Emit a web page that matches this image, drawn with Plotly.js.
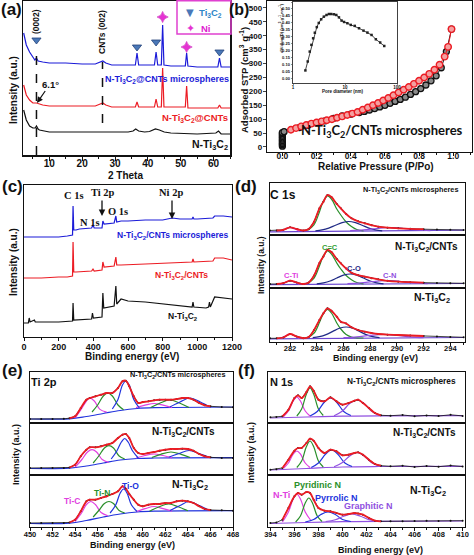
<!DOCTYPE html>
<html><head><meta charset="utf-8">
<script src="https://cdn.plot.ly/plotly-3.0.1.min.js"></script>
<style>html,body{margin:0;padding:0;background:#fff}#g{width:474px;height:555px}</style>
</head><body><div id="g"></div>
<script>
// ---------- (a) XRD ----------
const xrdBlue2theta = [2.2,3,4,5,5.6,6.1,6.6,8,10,15,20,24,25.5,26.3,27.2,29,33,36.2,36.7,37.2,40,42,42.5,43,44.1,44.5,44.9,47,51.4,51.8,52.2,55,60,61.3,61.8,62.3,65];
const xrdBlueI     = [122,110,103,98,95,97,94,93,92,92,91,91,93,94,92,90,90,90,102,90,90,90,103,90,90,130,90,89,89,102,89,88,88,88,97,88,88];
const xrdRed2theta = [2.2,3,4,5,6.1,8,10,15,20,24,25.5,26.3,27.2,29,33,36.2,36.7,37.2,40,42,42.5,43,44.1,44.5,44.9,47,51.4,51.8,52.2,55,60,61.3,61.8,62.3,65];
const xrdRedI      = [70,60,55,52,52,50,49,49,49,49,51,52,50,48,48,48,53,48,48,48,56,48,48,87,48,48,48,69,47,47,47,47,50,47,47];
const xrdBlack2theta = [2.2,3,4,5,5.7,6.1,6.6,7,10,20,30,34,35.5,36.3,37.2,39,40.5,42.3,43.5,45,47,55,60.7,61.5,62.3,65];
const xrdBlackI      = [45,35,29,27,27,29,26,25,23,23,23,23,24,26,24,23,23.5,26,25,23,22,21,22,24,21,21];
const ti3c2Peaks2theta = [6.1,36.7,42.5,61.8];
const ti3c2MarkLevel   = [115,108,113,103];
const niPeaks2theta = [44.5,51.8];
const niMarkLevel   = [138,108];
const refLines2theta = [6.1,26.2];

// ---------- (b) BET ----------
const betAdsP = [0,0,0,0,0,0,0,0,0,0,0,0.01,0.1,0.15,0.2,0.25,0.3,0.35,0.4,0.45,0.48,0.51,0.54,0.57,0.6,0.63,0.66,0.69,0.72,0.75,0.78,0.81,0.84,0.87,0.9,0.93,0.96,0.99];
const betAdsV = [3,8,13,18,23,28,33,38,43,48,52,55,70,78,86,94,103,112,118,124,128,133,138,144,150,157,164,171,179,189,199,210,223,238,256,285,343,424];
const betDesP = [0.05,0.08,0.11,0.14,0.17,0.2,0.23,0.26,0.29,0.32,0.35,0.38,0.41,0.44,0.47,0.5,0.53,0.56,0.59,0.62,0.65,0.68,0.71,0.74,0.77,0.8,0.83,0.86,0.89,0.92,0.95,0.97,0.99];
const betDesV = [62,68,74,79,84,88,92,96,100,105,110,115,120,126,134,142,150,158,167,176,186,196,206,216,227,238,250,263,278,296,325,360,424];
const poreD  = [1.73,1.92,2.1,2.26,2.44,2.63,2.87,3.13,3.48,3.92,4.41,4.9,5.43,6.12,6.8,7.65,8.6,9.6,11.1,12.9,15.4,18.6,22.7,27,32.4,39.2,47.5,56.9];
const poreDV = [0.06,0.124,0.195,0.243,0.29,0.33,0.37,0.4,0.426,0.445,0.457,0.464,0.464,0.462,0.457,0.44,0.417,0.407,0.398,0.386,0.379,0.362,0.345,0.331,0.314,0.283,0.26,0.235];

// ---------- (c) XPS survey ----------
const surveyBlueBE = [0,100,200,250,280,283,287,300,320,390,398,405,450,455,462,520,530,535,560,600,700,800,855,900,970,975,980,1000,1090,1100,1150,1200];
const surveyBlueI  = [100,100,100,101,102,131,107,107,108,109,112,109,109,116,113,114,121,115,116,116,117,117,119,118,118,120,118,118,119,121,121,120];
const surveyRedBE  = [0,100,200,250,280,283,287,300,390,398,405,450,455,462,520,530,535,560,700,850,900,970,975,980,1090,1100,1150,1200];
const surveyRedI   = [59,59,60,60,61,95,65,65,66,68,66,67,75,70,71,80,72,72,73,74,74,75,78,75,76,79,79,77];
const surveyBlackBE = [0,25,30,35,60,65,70,200,280,283,287,390,395,400,450,455,460,520,530,535,560,600,700,800,900,950,970,975,980,1050,1065,1070,1075,1100,1150,1200];
const surveyBlackI  = [14,14,19,15,17,15,15,15,16,34,17,18,24,19,20,44,29,31,51,33,38,36,35,33,31,30,30,35,30,29,30,35,30,40,39,38];

// ---------- (d) C 1s ----------
const c1sBE    = [280.5,281,281.5,282,282.5,283,283.4,283.8,284.2,284.5,284.8,285.1,285.5,285.8,286.2,286.6,287.1,287.6,288.1,288.6,289.3,290.1,291,292,293,294,295];
const c1sMicro = [4.5,4.5,5.2,7.7,6,4.5,6,13.3,26.7,33.3,40,38,31,26.7,21,16.7,13.7,11.7,9.8,8.3,7.3,6.7,6.2,5.8,5.5,5.2,5];
const c1sCNTs  = [4,4,4.8,7.3,5.5,4,5.5,12.5,25,31.5,38,36,29,24.7,19.5,15.3,12.8,11.3,9.8,8.7,7.2,6.3,5.8,5.3,5,4.8,4.7];
const c1sPure  = [3.7,3.7,4.5,8,5.5,3.8,5,12,22,28.7,33.7,31.3,25.3,20.3,18.5,14.7,12,10.3,9,8,7.3,7,6.5,6,5.5,5,4.7];
const cBaseBE = [280.5,295];
const dM_base = [3.2,4.8], dC_base = [3.3,4.5], dP_base = [3.2,4.5];
const cTiBE = [281.3,281.65,282,282.35,282.7];
const dM_CTi = [3.9,6,7.7,6,3.9], dC_CTi = [3.8,5.7,7.3,5.7,3.8], dP_CTi = [3.8,6,8,6,3.8];
const ccBE = [283.3,283.8,284.2,284.5,284.8,285.1,285.5,285.8,286.2,286.6,287,287.5];
const dM_CC = [4.4,10.3,23,34,39,36,26,20,13,8.5,5.5,4.2];
const dC_CC = [4.3,9.9,22,32.3,37,34,25,19,12.5,8.3,5.5,4.2];
const dP_CC = [4,8.8,19.4,28.4,32.5,29,19,13,7.5,5,4.2,4];
const dM_CO_BE = [283.9,284.4,284.9,285.4,285.9,286.4,286.9,287.4,287.9,288.4,288.9];
const dM_CO    = [4.2,5.1,6.9,9.7,12.3,13.5,12.3,9.7,6.9,5.1,4.2];
const dC_CO_BE = [284,284.5,285,285.5,286,286.5,287,287.5,288,288.5,289];
const dC_CO    = [4.2,5.2,7,10,12.8,14,12.8,10,7,5.2,4.2];
const dP_CO_BE = [283.7,284.2,284.7,285.2,285.7,286.2,286.7,287.2,287.7,288.2,288.7];
const dP_CO    = [4.3,5.3,7.4,10.6,13.7,15,13.7,10.6,7.4,5.3,4.3];
const dM_CN_BE = [286.5,287.5,288.5,289.5,290.5,291.5,292.5];
const dM_CN    = [4.4,5.1,6.5,7.5,6.5,5.1,4.4];
const dC_CN_BE = [286.3,287.3,288.3,289.3,290.3,291.3,292.3];
const dC_CN    = [4.3,5.1,6.5,7.5,6.5,5.1,4.4];
const dP_CN_BE = [286,287,288,289,290,291,292];
const dP_CN    = [4.3,5.2,6.6,7.5,6.6,5.2,4.3];

// ---------- (e) Ti 2p ----------
const ti2pBE   = [450,451,452,453,453.5,454,454.5,455,455.3,455.8,456.3,456.8,457.3,457.8,458.2,458.5,458.8,459.2,459.6,460,460.5,461,461.5,462,462.5,463,463.5,464,464.5,465,465.5,466,467,468];
const ti2pMicro = [4,4,4,4.2,4.8,6.7,15,23.3,25,26.7,28.3,30,30,35,41.7,42.3,36.7,26.7,20,21,21.7,22.7,23.3,23.3,23.3,24,25,25,23.3,20,17.7,16.7,16,15.7];
const ti2pCNTs  = [7,7,7,7,7.5,10.3,18.7,25.3,27.7,27.7,28.7,30.3,32,37,40.3,41,37,27,22,21,22,23,24.3,25.3,26,26,26.3,26,24.3,21,18.7,17.7,17,17];
const ti2pPure  = [4,4,4,4,4.5,7.3,15.7,25.7,27.3,27.3,29,30.7,33,35.7,40.7,38.3,33,27.3,22.3,20.7,22.3,23,23,24,24,25.7,26.3,25.7,24,20.7,18,17,16.7,16.3];
const tiBaseBE = [450,453.5,455,456.5,458,459.5,461,468];
const eM_base = [4,4.2,6.5,9.5,12.5,14.5,15.3,16];
const eC_base = [6.5,6.8,9,12,15,16.5,17,17.3];
const eP_base = [3.5,3.8,6.5,10,13,15,15.8,16.3];
const eM_TiCa_BE = [454,454.5,455,455.3,455.7,456.2,456.8], eM_TiCa = [5,13,22,25,22,13.6,10.9];
const eM_TiCb_BE = [459.4,460.2,461,461.8,462.6],           eM_TiCb = [15.4,17.8,19.5,17.8,15.4];
const eM_TiNa_BE = [455.5,456,456.5,456.9,457.3,457.8,458.3], eM_TiNa = [11,18,27,30,27,18,13.2];
const eM_TiNb_BE = [460.7,461.5,462.4,463.3,464.1],         eM_TiNb = [15.5,19.7,23,19.7,15.5];
const eM_TiOa_BE = [457.3,457.8,458.2,458.5,458.8,459.2,459.7], eM_TiOa = [14,23.5,38,42,38,23.5,15];
const eM_TiOb_BE = [462.4,463.3,464.2,465.1,466],           eM_TiOb = [16,21,25,21,16];
const eC_TiCa_BE = [454,454.6,455.1,455.5,455.9,456.4,457], eC_TiCa = [8,15.5,23,25.3,23,15.5,12.5];
const eC_TiCb_BE = [459.4,460.2,461,461.8,462.6],           eC_TiCb = [17,19.5,21,19.5,17.2];
const eC_TiNa_BE = [455.6,456.1,456.6,457,457.4,457.9,458.4], eC_TiNa = [12,19,27,29.3,27,19,16];
const eC_TiNb_BE = [460.8,461.6,462.5,463.4,464.2],         eC_TiNb = [17.5,20.7,23,20.7,17.5];
const eC_TiOa_BE = [457.2,457.7,458.1,458.4,458.7,459.1,459.6], eC_TiOa = [16,24,33,36.5,33,24,17];
const eC_TiOb_BE = [462.3,463.2,464.1,465,465.9],           eC_TiOb = [17.7,21.5,24.5,21.5,17.7];
const eP_TiCa_BE = [454,454.6,455,455.4,455.8,456.3,456.9], eP_TiCa = [5.5,14.5,22.5,25.5,22.5,14.5,11.3];
const eP_TiCb_BE = [459.4,460.2,461,461.8,462.6],           eP_TiCb = [15.3,18.3,20.5,18.3,15.8];
const eP_TiNa_BE = [455.6,456.1,456.6,457,457.4,457.9,458.4], eP_TiNa = [10,16.5,23.5,25.5,23.5,16.5,14];
const eP_TiNb_BE = [460.6,461.4,462.3,463.2,464],           eP_TiNb = [15.8,20,23,20,16.2];
const eP_TiOa_BE = [457.1,457.6,458,458.3,458.6,459,459.5], eP_TiOa = [14,22,34,38,34,22,15.5];
const eP_TiOb_BE = [462.4,463.3,464.1,465,465.9],           eP_TiOb = [16.5,21.5,25.5,21.5,16.7];

// ---------- (f) N 1s ----------
const n1sBE    = [394,394.5,395,395.5,396,396.3,396.6,397,397.3,397.6,398,398.5,399,399.5,400,400.5,401,401.3,401.7,402.2,402.7,403.2,404,405,406,407,408,409,410];
const n1sMicro = [5.7,6,6.7,13.3,25,27.7,25,31,36.7,32.3,23.3,21.7,25.7,21.7,18.3,20,22.3,23.3,20,15,10,7.7,7.3,8,6.8,7.6,7,8.2,7.1];
const n1sCNTs  = [5.3,5.8,7,15.3,24.3,27,27,32,36.3,34.3,27,22,25.3,23.7,19.7,20.3,22,22.7,20.3,15.3,11,9.3,8.7,9.3,8,9,8.3,9.5,8.5];
const n1sPure  = [4,4.5,7.3,19,30.7,34,32.3,35,34,27.3,19,16.3,15.7,14,12.3,13,14,13.5,12.3,9,6.3,5.7,5.7,5.7,6,6.3,6,6.3,6.3];
const nBaseBE = [394,397,400,403,410];
const fM_base = [5,6,6.8,7.2,7.3], fC_base = [5,6.5,8,8.5,8.7], fP_base = [3.5,4.5,5.3,5.7,6];
const fM_NTi_BE = [395.1,395.5,395.9,396.2,396.5,396.9,397.3], fM_NTi = [6.5,12,22,26,22,12,7];
const fM_Pyd_BE = [396.2,396.6,397,397.3,397.6,398,398.4],     fM_Pyd = [7,14,29,35,29,14,7.5];
const fM_Pyr_BE = [397.3,397.9,398.5,399,399.5,400.1,400.7],   fM_Pyr = [7,11.5,21,25,21,11.5,7.5];
const fM_Gra_BE = [399.3,400,400.6,401.2,401.8,402.4,403.1],   fM_Gra = [7.3,12,19.5,23,19.5,12,7.6];
const fC_NTi_BE = [395.1,395.5,395.9,396.2,396.5,396.9,397.3], fC_NTi = [7,12,21,24,21,12,7.5];
const fC_Pyd_BE = [396.2,396.6,397,397.3,397.6,398,398.4],     fC_Pyd = [7.5,14,28.5,34,28.5,14,8];
const fC_Pyr_BE = [397.4,398,398.6,399.1,399.6,400.2,400.8],   fC_Pyr = [7.5,12,21,25,21,12,8.5];
const fC_Gra_BE = [399.3,400,400.6,401.2,401.8,402.4,403.1],   fC_Gra = [8.3,12.5,19,22.5,19,12.5,8.6];
const fP_NTi_BE = [395,395.5,395.9,396.2,396.5,396.9,397.4],   fP_NTi = [5,15,28,33,28,15,6];
const fP_Pyd_BE = [396.1,396.5,396.9,397.2,397.5,397.9,398.3], fP_Pyd = [5,11,24,29,24,11,5.5];
const fP_Pyr_BE = [396.9,397.6,398.2,398.8,399.4,400,400.7],   fP_Pyr = [5,7.5,12.5,15,12.5,7.5,5.5];
const fP_Gra_BE = [398.6,399.4,400.1,400.8,401.5,402.2,403],   fP_Gra = [5.5,7.3,10.8,13,10.8,7.3,5.8];

// ---------- drawing ----------
const FONT = 'Liberation Sans';
const W = 474, H = 555;
const PX = x => x / W, PY = y => 1 - y / H;
const BLUE = '#1b1bd8', RED = '#ec1c24', BLK = '#111111';
const MAG = '#e040e0', GRN = '#2a8f2a', NAVY = '#1f2a85', BLU2 = '#2233dd', PUR = '#9050e0';

const traces = [];
function tr(x, y, xa, ya, color, width, o) {
  return Object.assign({type:'scatter', mode:'lines', x:x, y:y, xaxis:xa, yaxis:ya,
    line:{color:color, width:width}, hoverinfo:'skip', showlegend:false}, o || {});
}
// (a)
traces.push(tr(xrdBlack2theta, xrdBlackI, 'x', 'y', BLK, 1.2));
traces.push(tr(xrdRed2theta, xrdRedI, 'x', 'y', RED, 1.2));
traces.push(tr(xrdBlue2theta, xrdBlueI, 'x', 'y', BLUE, 1.2));
traces.push(tr(ti3c2Peaks2theta, ti3c2MarkLevel, 'x', 'y', '#3f6fb5', 1, {mode:'markers',
  marker:{symbol:'triangle-down', size:8, color:'#4a78b8', line:{color:'#23437a', width:0.8}}}));
traces.push(tr(niPeaks2theta, niMarkLevel, 'x', 'y', MAG, 1, {mode:'markers',
  marker:{symbol:'star-diamond', size:8, color:'#e533d2', line:{color:'#c010b0', width:0.5}}}));
// (b)
traces.push(tr(betAdsP, betAdsV, 'x2', 'y2', BLK, 1, {mode:'lines+markers',
  marker:{symbol:'circle', size:6, color:'#8a8a8a', line:{color:'#111', width:1.3}}}));
traces.push(tr(betDesP, betDesV, 'x2', 'y2', RED, 1, {mode:'lines+markers',
  marker:{symbol:'circle', size:6.5, color:'#f4a0a0', line:{color:RED, width:1.4}}}));
traces.push(tr(poreD, poreDV, 'x3', 'y3', BLK, 0.8, {mode:'lines+markers',
  marker:{symbol:'square', size:2.5, color:'#222'}}));
// (c)
traces.push(tr(surveyBlackBE, surveyBlackI, 'x4', 'y4', BLK, 1.2));
traces.push(tr(surveyRedBE, surveyRedI, 'x4', 'y4', RED, 1.2));
traces.push(tr(surveyBlueBE, surveyBlueI, 'x4', 'y4', BLUE, 1.2));

function xps(xa, ya, bx, by, lo, hi, baseX, baseY, baseColor, comps) {
  traces.push(tr(baseX, baseY, xa, ya, baseColor, 1.2, {line:{color:baseColor, width:1.2, shape:'spline'}}));
  comps.forEach(c => traces.push(tr(c[0], c[1], xa, ya, c[2], 1.2, {line:{color:c[2], width:1.2, shape:'spline'}})));
  traces.push(tr(bx, by, xa, ya, BLK, 0.8, {mode:'lines+markers', marker:{size:2, color:BLK}}));
  const ex = [], ey = [];
  bx.forEach((v, i) => { if (v >= lo && v <= hi) { ex.push(v); ey.push(by[i]); } });
  traces.push(tr(ex, ey, xa, ya, RED, 1.8, {line:{color:RED, width:1.8, shape:'spline'}}));
}
const dBaseCol = '#6a45d0';
xps('x5','y5', c1sBE, c1sMicro, 281, 292.5, cBaseBE, dM_base, dBaseCol,
  [[cTiBE, dM_CTi, MAG], [ccBE, dM_CC, GRN], [dM_CO_BE, dM_CO, NAVY], [dM_CN_BE, dM_CN, PUR]]);
xps('x6','y6', c1sBE, c1sCNTs, 281, 292.5, cBaseBE, dC_base, dBaseCol,
  [[cTiBE, dC_CTi, MAG], [ccBE, dC_CC, GRN], [dC_CO_BE, dC_CO, NAVY], [dC_CN_BE, dC_CN, PUR]]);
xps('x7','y7', c1sBE, c1sPure, 281, 292.5, cBaseBE, dP_base, dBaseCol,
  [[cTiBE, dP_CTi, MAG], [ccBE, dP_CC, GRN], [dP_CO_BE, dP_CO, NAVY], [dP_CN_BE, dP_CN, PUR]]);
xps('x8','y8', ti2pBE, ti2pMicro, 453.5, 466.5, tiBaseBE, eM_base, BLU2,
  [[eM_TiCa_BE, eM_TiCa, MAG], [eM_TiCb_BE, eM_TiCb, MAG], [eM_TiNa_BE, eM_TiNa, GRN], [eM_TiNb_BE, eM_TiNb, GRN], [eM_TiOa_BE, eM_TiOa, BLU2], [eM_TiOb_BE, eM_TiOb, BLU2]]);
xps('x9','y9', ti2pBE, ti2pCNTs, 453.5, 466.5, tiBaseBE, eC_base, BLU2,
  [[eC_TiCa_BE, eC_TiCa, MAG], [eC_TiCb_BE, eC_TiCb, MAG], [eC_TiNa_BE, eC_TiNa, GRN], [eC_TiNb_BE, eC_TiNb, GRN], [eC_TiOa_BE, eC_TiOa, BLU2], [eC_TiOb_BE, eC_TiOb, BLU2]]);
xps('x10','y10', ti2pBE, ti2pPure, 453.5, 466.5, tiBaseBE, eP_base, BLU2,
  [[eP_TiCa_BE, eP_TiCa, MAG], [eP_TiCb_BE, eP_TiCb, MAG], [eP_TiNa_BE, eP_TiNa, GRN], [eP_TiNb_BE, eP_TiNb, GRN], [eP_TiOa_BE, eP_TiOa, BLU2], [eP_TiOb_BE, eP_TiOb, BLU2]]);
xps('x11','y11', n1sBE, n1sMicro, 394.8, 403.3, nBaseBE, fM_base, PUR,
  [[fM_NTi_BE, fM_NTi, MAG], [fM_Pyd_BE, fM_Pyd, GRN], [fM_Pyr_BE, fM_Pyr, BLU2], [fM_Gra_BE, fM_Gra, PUR]]);
xps('x12','y12', n1sBE, n1sCNTs, 394.8, 403.3, nBaseBE, fC_base, PUR,
  [[fC_NTi_BE, fC_NTi, MAG], [fC_Pyd_BE, fC_Pyd, GRN], [fC_Pyr_BE, fC_Pyr, BLU2], [fC_Gra_BE, fC_Gra, PUR]]);
xps('x13','y13', n1sBE, n1sPure, 394.8, 403.3, nBaseBE, fP_base, PUR,
  [[fP_NTi_BE, fP_NTi, MAG], [fP_Pyd_BE, fP_Pyd, GRN], [fP_Pyr_BE, fP_Pyr, BLU2], [fP_Gra_BE, fP_Gra, PUR]]);

// ---------- axes ----------
function tf(size) { return {family:FONT, size:size, color:'#111', weight:'bold'}; }
function ax(domain, range, anchor, o) {
  return Object.assign({domain:domain, range:range, anchor:anchor, showline:true, mirror:true,
    linecolor:'#111', linewidth:1.2, showgrid:false, zeroline:false, ticks:'', showticklabels:false,
    fixedrange:true}, o || {});
}
function bottomTicks(t0, dt, mdt, size, standoff) {
  return {ticks:'outside', ticklen:3, tickwidth:1, tickcolor:'#111', showticklabels:true, tick0:t0, dtick:dt,
    tickfont:tf(size), ticklabelstandoff:standoff,
    minor:{dtick:mdt, ticks:'outside', ticklen:2, tickwidth:1, tickcolor:'#111'}};
}
const layout = {
  width:W, height:H, margin:{l:0, r:0, t:0, b:0}, paper_bgcolor:'#fff', plot_bgcolor:'rgba(0,0,0,0)',
  showlegend:false, font:{family:FONT},
  xaxis: ax([PX(23), PX(230)], [2, 65], 'y', Object.assign(bottomTicks(0, 10, 5, 10, -6), {ticklen:4, linewidth:1.5})),
  yaxis: ax([PY(155), PY(1)], [0, 154], 'x', {linewidth:1.5}),
  xaxis2: ax([PX(267), PX(472)], [-0.09, 1.11], 'y2', Object.assign(bottomTicks(0, 0.2, 0.1, 8.5, -7), {tickformat:'.1f'})),
  yaxis2: ax([PY(152), PY(1)], [-18, 525], 'x2', {ticks:'outside', ticklen:3, tickwidth:1, showticklabels:true,
    tick0:0, dtick:50, tickfont:tf(8), ticklabelstandoff:-1}),
  xaxis3: ax([PX(293), PX(397)], [0, 2], 'y3', {type:'log', ticks:'outside', ticklen:1.5, tickwidth:0.6, showticklabels:true,
    tickvals:[1, 10, 100], ticktext:['1', '10', '100'], tickfont:tf(4.5), linewidth:0.8, ticklabelstandoff:-2}),
  yaxis3: ax([PY(83), PY(2)], [-0.03, 0.55], 'x3', {ticks:'outside', ticklen:1.5, tickwidth:0.6, showticklabels:true,
    tick0:0, dtick:0.05, tickformat:'.2f', tickfont:tf(4), linewidth:0.8}),
  xaxis4: ax([PX(24), PX(232)], [0, 1200], 'y4', bottomTicks(0, 200, 100, 9, -2)),
  yaxis4: ax([PY(337), PY(185)], [0, 152], 'x4'),
  xaxis5: ax([PX(270), PX(465)], [280.5, 295.1], 'y5'),
  yaxis5: ax([PY(235), PY(183)], [0, 52], 'x5'),
  xaxis6: ax([PX(270), PX(465)], [280.5, 295.1], 'y6'),
  yaxis6: ax([PY(288), PY(235)], [0, 53], 'x6'),
  xaxis7: ax([PX(270), PX(465)], [280.5, 295.1], 'y7', bottomTicks(282, 2, 1, 7.5, -4)),
  yaxis7: ax([PY(342), PY(288)], [0, 54], 'x7'),
  xaxis8: ax([PX(30), PX(233)], [450, 468], 'y8'),
  yaxis8: ax([PY(423), PY(372)], [0, 51], 'x8'),
  xaxis9: ax([PX(30), PX(233)], [450, 468], 'y9'),
  yaxis9: ax([PY(475), PY(423)], [0, 52], 'x9'),
  xaxis10: ax([PX(30), PX(233)], [450, 468], 'y10', bottomTicks(450, 2, 1, 7.5, -3)),
  yaxis10: ax([PY(527), PY(475)], [0, 52], 'x10'),
  xaxis11: ax([PX(268), PX(465)], [393.8, 410.2], 'y11'),
  yaxis11: ax([PY(423), PY(372)], [0, 51], 'x11'),
  xaxis12: ax([PX(268), PX(465)], [393.8, 410.2], 'y12'),
  yaxis12: ax([PY(475), PY(423)], [0, 52], 'x12'),
  xaxis13: ax([PX(268), PX(465)], [393.8, 410.2], 'y13', bottomTicks(394, 2, 1, 7.5, -3)),
  yaxis13: ax([PY(527), PY(475)], [0, 52], 'x13')
};

// ---------- annotations ----------
const annotations = [];
function T(text, x, y, size, color, o) {
  annotations.push(Object.assign({text:text, x:PX(x), y:PY(y), xref:'paper', yref:'paper', showarrow:false,
    xanchor:'center', yanchor:'middle', font:{family:FONT, size:size, color:color || '#111', weight:'bold'}}, o || {}));
}
function A(x1, y1, x0, y0) {
  annotations.push({text:'', x:PX(x1), y:PY(y1), xref:'paper', yref:'paper', showarrow:true,
    ax:x0 - x1, ay:y0 - y1, arrowhead:2, arrowsize:1, arrowwidth:1.3, arrowcolor:'#111'});
}
const ROT = {textangle:-90};
const TI3C2 = 'N-Ti<sub>3</sub>C<sub>2</sub>';
// panel letters
T('(a)', 11, 9, 17); T('(b)', 239, 9, 16); T('(c)', 12, 186, 17); T('(d)', 246, 186, 17);
T('(e)', 12, 371, 17); T('(f)', 247, 371, 17);
// (a)
T('Intensity (a.u.)', 13, 90, 10, null, ROT);
T('2 Theta', 126, 175, 10);
T('(0002)', 36, 22, 8.5, null, ROT);
T('CNTs (002)', 102, 32, 8.5, null, ROT);
T(TI3C2 + '@CNTs microspheres', 167, 79, 9, BLUE);
T(TI3C2 + '@CNTs', 195, 118, 9.5, RED);
T(TI3C2, 210, 145, 10.5);
annotations.push({text:'6.1°', x:PX(37), y:PY(103), xref:'paper', yref:'paper', showarrow:true, ax:13, ay:-19,
  arrowhead:2, arrowsize:1, arrowwidth:1.2, arrowcolor:'#111', font:{family:FONT, size:9.5, color:'#111', weight:'bold'}});
T('\u25BC', 190, 13, 10, '#4a78b8', {font:{family:'DejaVu Sans', size:10, color:'#4a78b8'}});
T('Ti<sub>3</sub>C<sub>2</sub>', 197, 13, 9.5, '#2f86c8', {xanchor:'left'});
T('\u2726', 190, 28, 11, '#e533d2', {font:{family:'DejaVu Sans', size:11, color:'#e533d2'}});
T('Ni', 199, 28, 9.5, '#e020d0', {xanchor:'left'});
// (b)
T('Adsorbed STP (cm<sup>3</sup> g<sup>-1</sup>)', 244, 80, 9.5, null, ROT);
T('Relative Pressure (P/Po)', 376, 166, 10);
T(TI3C2 + '/CNTs microspheres', 382, 131, 12.5, null, {font:{family:'Lato', size:13, color:'#111', weight:'bold'}});
T('dV/dlog(D) (cm<sup>3</sup> g<sup>-1</sup> nm<sup>-1</sup>)', 281, 28, 4.2, null, ROT);
T('Pore diameter (nm)', 343, 91, 4.5);
// (c)
T('Intensity (a.u.)', 13, 262, 10, null, ROT);
T('Binding energy (eV)', 132, 356, 10);
const SERIF = {family:'Liberation Serif', size:10.5, color:'#111', weight:'bold'};
T('C 1s', 74, 196, 10, null, {font:SERIF});
T('Ti 2p', 103, 192, 10, null, {font:SERIF});
T('N 1s', 90, 222, 10, null, {font:SERIF});
T('O 1s', 118, 211, 10, null, {font:SERIF});
T('Ni 2p', 171, 192, 10, null, {font:SERIF});
A(102, 216, 102, 199);
A(172, 219, 172, 199);
T(TI3C2 + '/CNTs microspheres', 172, 235, 8.5, BLUE);
T(TI3C2 + '/CNTs', 181, 275, 8.5, RED);
T(TI3C2, 183, 316, 8.5);
// (d)
T('Intensity (a.u.)', 261, 265, 8.5, null, ROT);
T('Binding energy (eV)', 375, 358, 9);
T('C 1s', 283, 195, 12);
T(TI3C2 + '/CNTs microspheres', 410, 190, 7.3);
T(TI3C2 + '/CNTs', 426, 247, 10);
T('C=C', 330, 247, 7.5, '#33a033');
T('C-O', 354, 268, 7.5, NAVY);
T('C-Ti', 291, 275, 7.5, MAG);
T('C-N', 389, 275, 7.5, PUR);
T(TI3C2, 432, 298, 10.5);
// (e)
T('Intensity (a.u.)', 16, 455, 9, null, ROT);
T('Binding energy (eV)', 132, 545, 9);
T('Ti 2p', 44, 382, 11);
T(TI3C2 + '/CNTs microspheres', 177, 375, 7.3);
T(TI3C2 + '/CNTs', 183, 432, 10);
T(TI3C2, 190, 485, 10.5);
T('Ti-C', 72, 501, 8.5, MAG);
T('Ti-N', 102, 493, 8.5, GRN);
T('Ti-O', 130, 486, 8.5, BLU2);
// (f)
T('Intensity (a.u.)', 251, 453, 9, null, ROT);
T('Binding energy (eV)', 380, 550, 9);
T('N 1s', 281, 382, 11);
T(TI3C2 + '/CNTs microspheres', 401, 381, 8.3);
T(TI3C2 + '/CNTs', 424, 433, 10);
T(TI3C2, 428, 491, 10.5);
T('N-Ti', 281, 495, 9, MAG);
T('Pyridinic N', 317, 485, 9, GRN);
T('Pyrrolic N', 336, 498, 9, BLU2);
T('Graphitic N', 368, 506, 9, PUR);
layout.annotations = annotations;

// ---------- shapes ----------
layout.shapes = [
  {type:'rect', xref:'paper', yref:'paper', x0:PX(177), x1:PX(231), y0:PY(34), y1:PY(0.8),
    line:{color:'#e040d0', width:1.5}, fillcolor:'rgba(0,0,0,0)'},
  {type:'line', xref:'x', yref:'y', x0:refLines2theta[0], x1:refLines2theta[0], y0:0, y1:108,
    line:{color:'#111', width:1.5, dash:'dash'}},
  {type:'line', xref:'x', yref:'y', x0:refLines2theta[1], x1:refLines2theta[1], y0:32, y1:93,
    line:{color:'#111', width:1.5, dash:'dash'}}
];

Plotly.newPlot('g', traces, layout, {staticPlot:true, displayModeBar:false});
</script></body></html>
